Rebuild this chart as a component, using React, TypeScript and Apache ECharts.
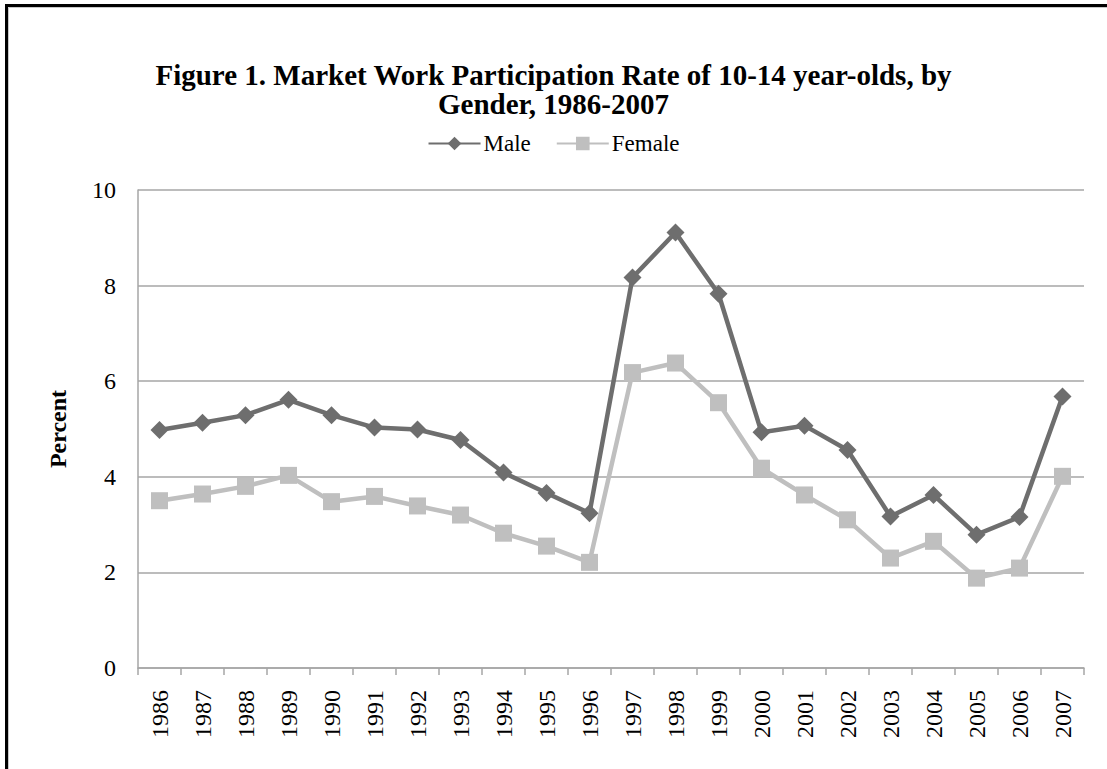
import React, { useEffect, useRef } from "react";
import * as echarts from "echarts";

const years = ["1986","1987","1988","1989","1990","1991","1992","1993","1994","1995","1996","1997","1998","1999","2000","2001","2002","2003","2004","2005","2006","2007"];
const male = [4.98, 5.13, 5.29, 5.61, 5.29, 5.03, 4.99, 4.77, 4.09, 3.66, 3.24, 8.17, 9.11, 7.83, 4.93, 5.07, 4.56, 3.17, 3.62, 2.79, 3.16, 5.68];
const female = [3.5, 3.64, 3.8, 4.03, 3.48, 3.59, 3.39, 3.2, 2.82, 2.55, 2.21, 6.18, 6.38, 5.55, 4.18, 3.62, 3.1, 2.3, 2.65, 1.88, 2.09, 4.01];
const yTicks = { min: 0, max: 10, interval: 2 };
const titleText = "Figure 1. Market Work Participation Rate of 10-14 year-olds, by\nGender, 1986-2007";

const FONT = "'Liberation Serif', 'Times New Roman', serif";

export default function App() {
  const ref = useRef<HTMLDivElement>(null);
  useEffect(() => {
    const chart = echarts.init(ref.current!, null, { renderer: "svg" });
    chart.setOption({
      animation: false,
      backgroundColor: "#ffffff",
      textStyle: { fontFamily: FONT, color: "#000" },
      title: {
        text: titleText,
        left: "center",
        top: 55,
        textStyle: { fontFamily: FONT, fontWeight: "bold", fontSize: 29, lineHeight: 29, color: "#000" },
      },
      legend: {
        top: 127,
        left: "center",
        itemWidth: 52,
        itemHeight: 17,
        itemGap: 25,
        textStyle: { fontFamily: FONT, fontSize: 23, color: "#000", padding: [0, 0, 0, -2] },
        data: ["Male", "Female"],
      },
      grid: { left: 138, right: 23, top: 190, bottom: 101, containLabel: false },
      xAxis: {
        type: "category",
        data: years,
        boundaryGap: true,
        axisLine: { lineStyle: { color: "#a6a6a6", width: 1.5 } },
        axisTick: { show: true, length: 7, lineStyle: { color: "#a6a6a6", width: 1.5 } },
        axisLabel: { rotate: 90, fontFamily: FONT, fontSize: 24, color: "#000", margin: 22 },
      },
      yAxis: {
        type: "value",
        min: yTicks.min,
        max: yTicks.max,
        interval: yTicks.interval,
        name: "Percent",
        nameLocation: "middle",
        nameGap: 68,
        nameRotate: 90,
        nameTextStyle: { fontFamily: FONT, fontWeight: "bold", fontSize: 24, color: "#000" },
        axisLine: { show: true, lineStyle: { color: "#a6a6a6", width: 1.5 } },
        axisTick: { show: false },
        splitLine: { lineStyle: { color: "#a6a6a6", width: 1.5 } },
        axisLabel: { fontFamily: FONT, fontSize: 24, color: "#000", margin: 22 },
      },
      series: [
        {
          name: "Male",
          type: "line",
          data: male,
          symbol: "diamond",
          symbolSize: 18,
          lineStyle: { color: "#6e6e6e", width: 4.5 },
          itemStyle: { color: "#6e6e6e" },
        },
        {
          name: "Female",
          type: "line",
          data: female,
          symbol: "rect",
          symbolSize: 17,
          lineStyle: { color: "#bfbfbf", width: 4.5 },
          itemStyle: { color: "#bfbfbf" },
        },
      ],
      graphic: [
        { type: "line", shape: { x1: 5, y1: 5.5, x2: 1107, y2: 5.5 }, style: { stroke: "#000", lineWidth: 3 }, silent: true },
        { type: "line", shape: { x1: 6.5, y1: 4, x2: 6.5, y2: 769 }, style: { stroke: "#000", lineWidth: 3 }, silent: true },
        { type: "line", shape: { x1: 8.5, y1: 7.5, x2: 1107, y2: 7.5 }, style: { stroke: "#c8c8c8", lineWidth: 1 }, silent: true },
        { type: "line", shape: { x1: 8.5, y1: 7.5, x2: 8.5, y2: 769 }, style: { stroke: "#c8c8c8", lineWidth: 1 }, silent: true },
      ],
    });
    return () => chart.dispose();
  }, []);
  return <div ref={ref} style={{ position: "fixed", left: 0, top: 0, width: 1107, height: 769 }} />;
}
